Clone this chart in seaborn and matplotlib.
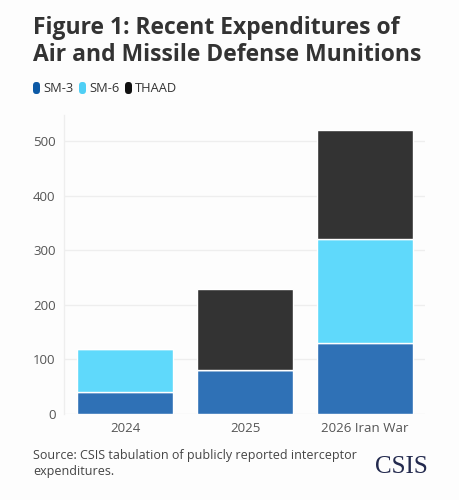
import pandas as pd
import matplotlib
matplotlib.use("Agg")
import matplotlib.pyplot as plt
from matplotlib.patches import FancyBboxPatch
import seaborn as sns

years = ["2024", "2025", "2026 Iran War"]
series = ["SM-3", "SM-6", "THAAD"]
sm3 = [40, 80, 130]
sm6 = [80, 0, 190]
thaad = [0, 150, 200]
yticks = [0, 100, 200, 300, 400, 500]

title = "Figure 1: Recent Expenditures of\nAir and Missile Defense Munitions"
source = "Source: CSIS tabulation of publicly reported interceptor\nexpenditures."

barColors = {"SM-3": "#2f71b6", "SM-6": "#5fd9fb", "THAAD": "#333333"}
legendColors = {"SM-3": "#0d5aa6", "SM-6": "#4fcff5", "THAAD": "#111111"}
# legend marker left edges, in figure pixels
legendX = [33, 79, 125]

sns.set_theme(style="white")
plt.rcParams["font.family"] = ["Open Sans", "DejaVu Sans"]

df = pd.DataFrame({"Year": years, "SM-3": sm3, "SM-6": sm6, "THAAD": thaad})

W, H = 460, 500
fig = plt.figure(figsize=(W / 100, H / 100), dpi=100, facecolor="#fdfdfd")
ax = fig.add_axes([0.139, 0.172, 0.785, 0.598], facecolor="#fdfdfd")

bottom = [0] * len(years)
for name in series:
    sns.barplot(data=df, x="Year", y=name, color=barColors[name], width=0.8,
                bottom=bottom, errorbar=None, saturation=1,
                edgecolor="white", linewidth=1.0, ax=ax, zorder=3)
    bottom = [b + v for b, v in zip(bottom, df[name])]

ax.set_xlim(-0.51, 2.5)
ax.set_ylim(0, 548)
ax.set_yticks(yticks)
ax.set_xlabel("")
ax.set_ylabel("")
ax.grid(axis="y", color="#eeeeee", linewidth=1.0, zorder=0)
ax.tick_params(axis="both", length=0, labelsize=9.5, labelcolor="#555555", pad=6)
for side in ["top", "right", "bottom"]:
    ax.spines[side].set_visible(False)
ax.spines["left"].set_color("#eeeeee")
ax.spines["left"].set_linewidth(1.0)

fig.text(33 / W, 1 - 16 / H, title, fontsize=16.5, fontweight="bold", color="#333333",
         va="top", ha="left", linespacing=1.15)

# legend with pill-shaped markers
for name, px in zip(series, legendX):
    fig.patches.append(FancyBboxPatch((px / W, 1 - 94 / H), 7 / W, 12 / H,
                                      boxstyle="round,pad=0,rounding_size=0.007",
                                      transform=fig.transFigure,
                                      facecolor=legendColors[name], edgecolor="none"))
    fig.text((px + 10) / W, 1 - 88.5 / H, name, fontsize=9.3, color="#333333",
             va="center", ha="left")

fig.text(33 / W, 1 - 449 / H, source, fontsize=9, color="#444444", va="top",
         ha="left", linespacing=1.25)
fig.text(428 / W, 1 - 473 / H, "CSIS", fontsize=18, color="#232a4e",
         family=["Liberation Serif", "DejaVu Serif"], va="baseline", ha="right")

fig.savefig("out.png", dpi=100, facecolor=fig.get_facecolor())
